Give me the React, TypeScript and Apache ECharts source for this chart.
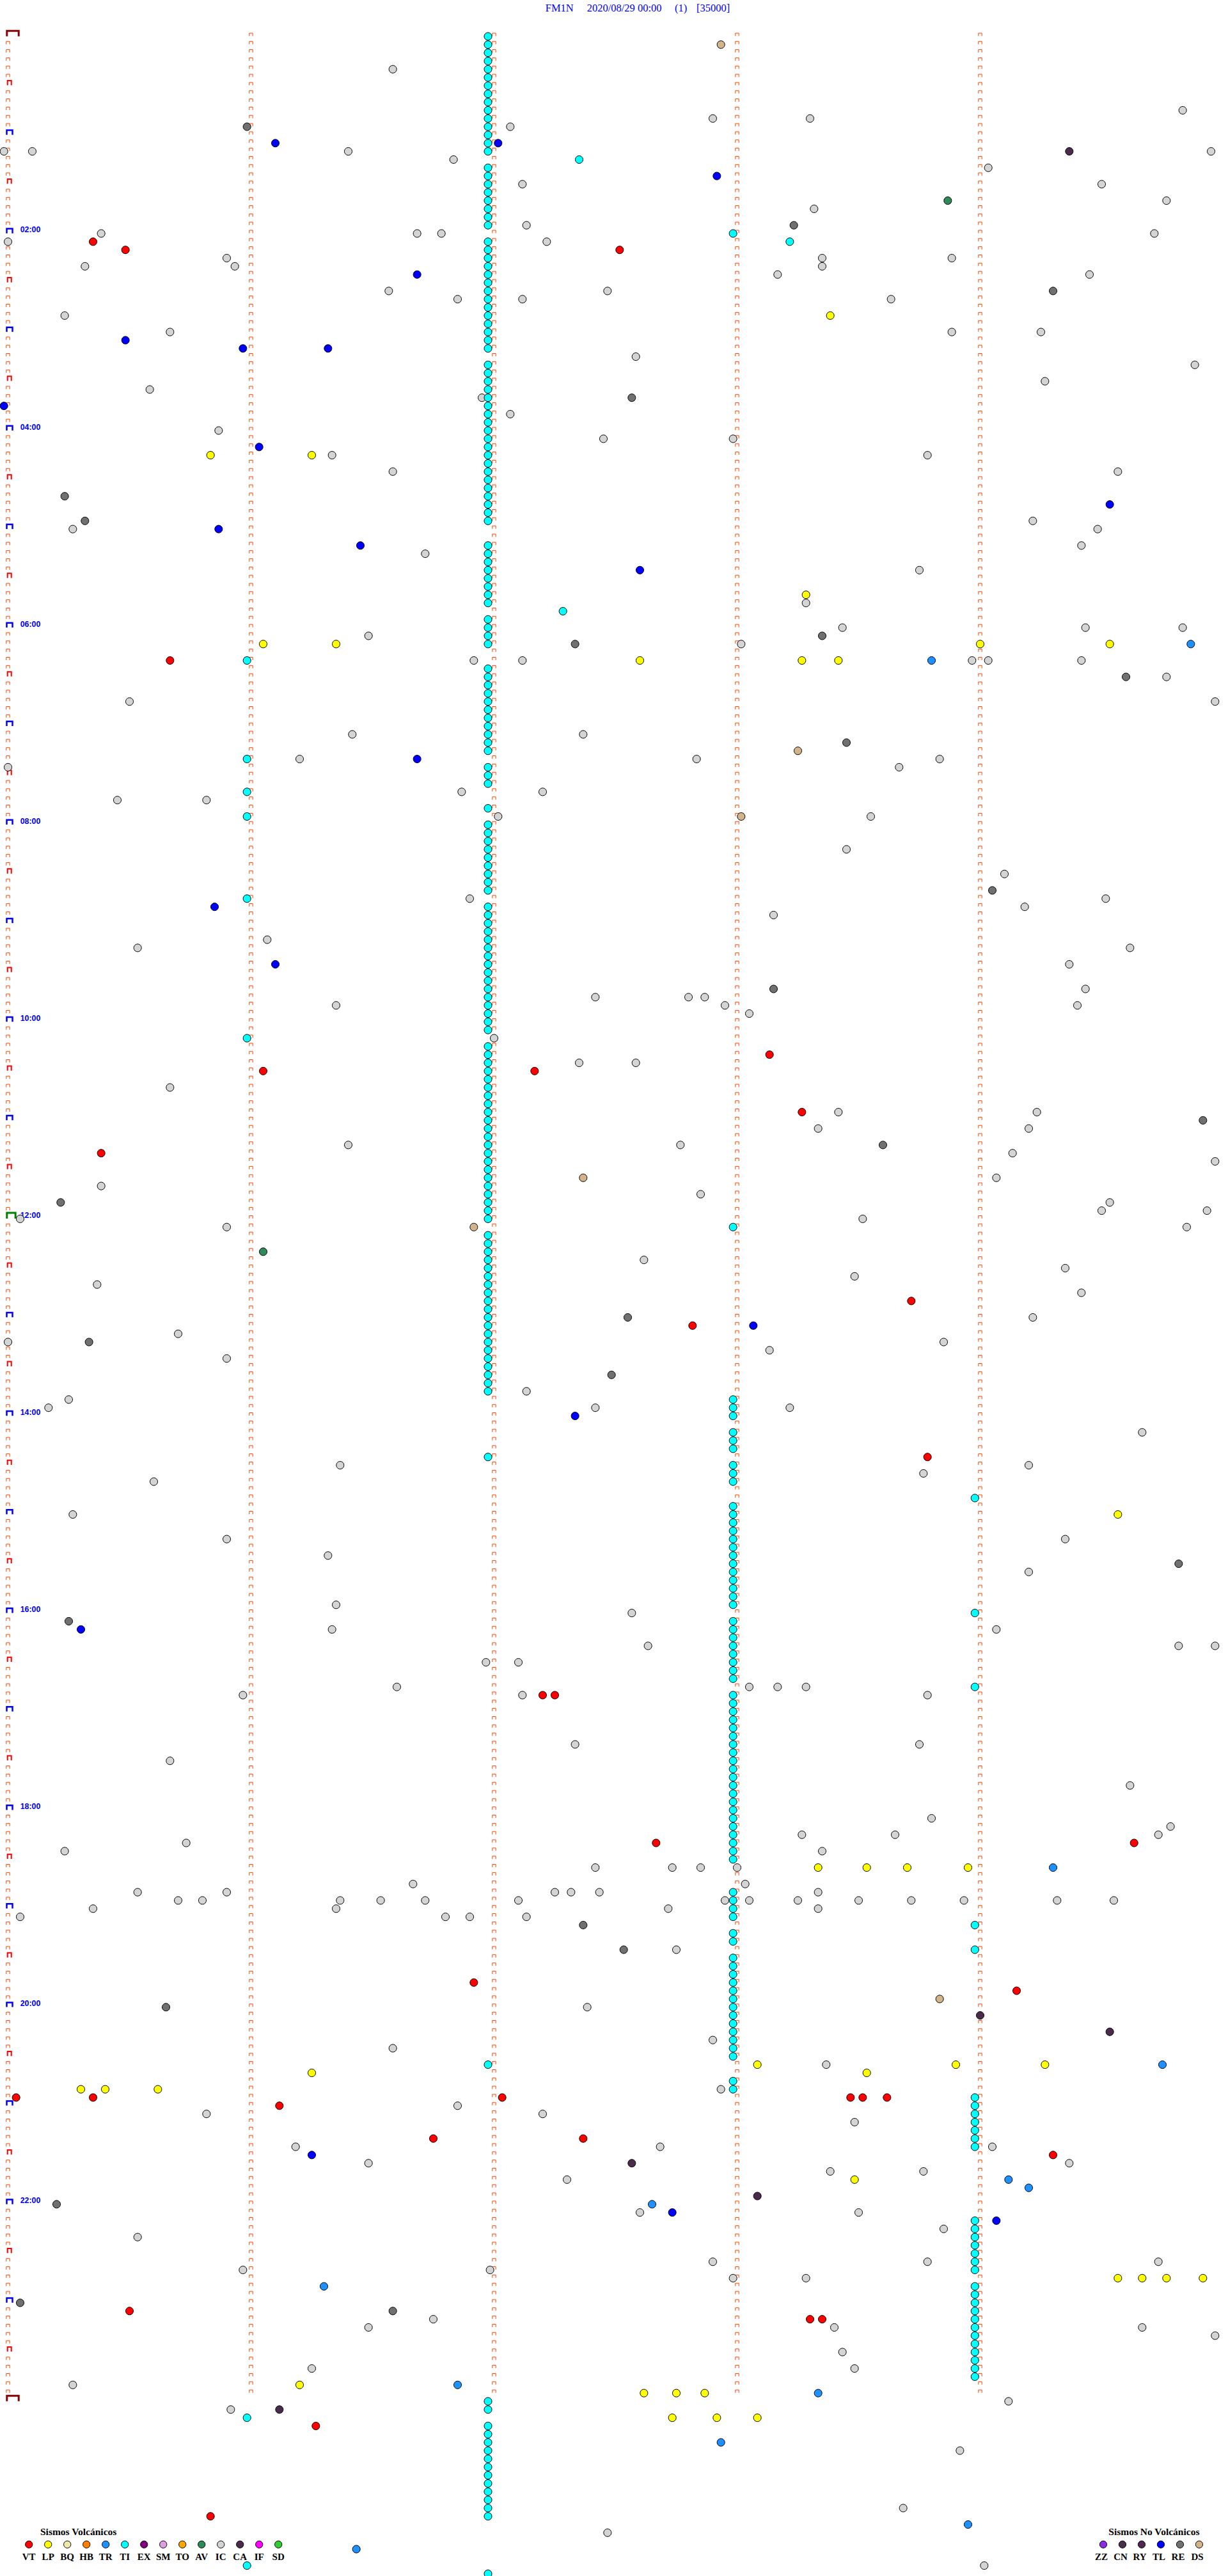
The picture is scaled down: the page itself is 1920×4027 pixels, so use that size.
import React, { useEffect, useRef } from "react";
import * as echarts from "echarts";

// ---------- page geometry (layout, not data) ----------
const WIDTH = 1920;
const HEIGHT = 4027;
const ROW_Y0 = 56.9; // pixel of slot 0
const ROW_H = 12.837; // pixels per 5-minute slot
const X_ZERO = 12.5; // pixel of second 0
const SEC_W = 380 / 60; // pixels per second

// ---------- texts ----------
const TITLE_PARTS = ["FM1N", "2020/08/29 00:00", "(1)", "[35000]"];
const TITLE_X = [852.7, 917.7, 1055, 1089];

const HOUR_LABELS = ["02:00", "04:00", "06:00", "08:00", "10:00", "12:00", "14:00", "16:00", "18:00", "20:00", "22:00"];
const HOUR_LABEL_SLOTS = [24, 48, 72, 96, 120, 144, 168, 192, 216, 240, 264];

const VOLC_TYPES = ["VT", "LP", "BQ", "HB", "TR", "TI", "EX", "SM", "TO", "AV", "IC", "CA", "IF", "SD"];
const VOLC_COLORS = ["#ff0000", "#ffff00", "#eee8aa", "#ff8000", "#1e90ff", "#00ffff", "#800080", "#dda0dd", "#ffa500", "#2e8b57", "#d4d4d4", "#4b2b4b", "#ff00ff", "#32cd32"];
const NONVOLC_TYPES = ["ZZ", "CN", "RY", "TL", "RE", "DS"];
const NONVOLC_COLORS = ["#8a2be2", "#483048", "#502850", "#0000ff", "#707070", "#d2b48c"];

// ---------- events: [slot (5-min row), seconds into slot] ----------
const TI_A_SEC = 118.5;
const TI_A_SLOTS = [
  0, 1, 2, 3, 4, 5, 6, 7, 8, 9, 10, 11, 12, 13, 14, 16, 17, 18, 19, 20, 21, 22, 23,
  25, 26, 27, 28, 29, 30, 31, 32, 33, 34, 35, 36, 37, 38,
  40, 41, 42, 43, 44, 45, 46, 47, 48, 49, 50, 51, 52, 53, 54, 55, 56, 57, 58, 59,
  62, 63, 64, 65, 66, 67, 68, 69, 71, 72, 73, 74,
  77, 78, 79, 80, 81, 82, 83, 84, 85, 86, 87, 89, 90, 91, 94,
  96, 97, 98, 99, 100, 101, 102, 103, 104,
  106, 107, 108, 109, 110, 111, 112, 113, 114, 115, 116, 117, 118, 119, 120, 121,
  123, 124, 125, 126, 127, 128, 129, 130, 131, 132, 133, 134, 135, 136, 137, 138, 139, 140, 141, 142, 143, 144,
  146, 147, 148, 149, 150, 151, 152, 153, 154, 155, 156, 157, 158, 159, 160, 161, 162, 163, 164, 165,
  173, 247, 288, 289, 291, 292, 293, 294, 295, 296, 297, 298, 299, 300, 301, 302, 309,
];
const TI_B_SEC = 179;
const TI_B_SLOTS = [
  24, 145, 166, 167, 168, 170, 171, 172, 174, 175, 176,
  179, 180, 181, 182, 183, 184, 185, 186, 187, 188, 189, 190, 191,
  193, 194, 195, 196, 197, 198, 199, 200,
  202, 203, 204, 205, 206, 207, 208, 209, 210, 211, 212, 213, 214, 215, 216, 217, 218, 219, 220, 221, 222,
  226, 227, 228, 229, 231, 232,
  234, 235, 236, 237, 238, 239, 240, 241, 242, 243, 244, 245, 246, 249, 250,
];
const TI_C_SEC = 238.7;
const TI_C_SLOTS = [
  178, 192, 201, 230, 233,
  251, 252, 253, 254, 255, 256, 257,
  266, 267, 268, 269, 270, 271, 272,
  274, 275, 276, 277, 278, 279, 280, 281, 282, 283, 284, 285,
];
const TI_OTHER = [[15, 141], [25, 193], [70, 137], [76, 59], [88, 59], [92, 59], [95, 59], [105, 59], [122, 59], [290, 59], [308, 59]];

const VT_EVENTS = [
  [25, 21], [26, 29], [26, 151], [76, 40], [124, 188], [126, 63], [126, 130], [131, 196], [136, 23],
  [154, 223], [157, 169], [173, 227], [202, 132], [202, 135], [220, 160], [220, 278], [237, 115], [238, 249],
  [251, 2], [251, 21], [251, 122], [251, 208], [251, 211], [251, 217], [252, 67], [256, 105], [256, 142],
  [258, 258], [277, 30], [278, 198], [278, 201], [291, 76], [302, 50],
];
const LP_EVENTS = [
  [34, 203], [51, 50], [51, 75], [68, 197], [74, 63], [74, 81], [74, 240], [74, 272], [76, 156], [76, 196],
  [76, 205], [180, 274], [223, 200], [223, 212], [223, 222], [223, 237], [247, 185], [247, 234], [247, 256],
  [248, 75], [248, 212], [250, 18], [250, 24], [250, 37], [261, 209], [273, 274], [273, 280], [273, 286],
  [273, 295], [286, 72], [287, 157], [287, 165], [287, 172], [290, 164], [290, 175], [290, 185],
];
const TR_EVENTS = [
  [74, 292], [76, 228], [223, 258], [247, 285], [261, 247], [262, 252], [264, 159], [274, 78], [286, 111],
  [287, 200], [293, 176], [303, 237], [306, 86],
];
const AV_EVENTS = [[20, 232], [148, 63]];
const CA_EVENTS = [[14, 262], [241, 240], [243, 272], [259, 154], [263, 185], [289, 67]];
const TL_EVENTS = [
  [13, 66], [13, 121], [17, 175], [29, 101], [37, 29], [38, 58], [38, 79], [45, -1], [50, 62], [57, 272],
  [60, 52], [62, 87], [65, 156], [88, 101], [106, 51], [113, 66], [157, 184], [168, 140], [194, 18],
  [258, 75], [265, 164], [266, 244],
];
const RE_EVENTS = [
  [11, 59], [23, 194], [31, 258], [44, 154], [56, 14], [59, 19], [73, 201], [74, 140], [78, 276], [86, 207],
  [104, 243], [116, 189], [132, 295], [135, 216], [142, 13], [156, 153], [159, 20], [163, 149], [186, 289],
  [193, 15], [230, 142], [233, 152], [240, 39], [264, 12], [276, 3], [277, 95],
];
const DS_EVENTS = [[1, 176], [87, 195], [95, 181], [139, 142], [145, 115], [239, 230]];
const IC_EVENTS = [
  [4, 95], [9, 290], [10, 174], [10, 198], [11, 124], [14, -1], [14, 6], [14, 84], [14, 297], [15, 110],
  [16, 242], [18, 127], [18, 270], [20, 286], [21, 199], [23, 128], [24, 283], [24, 23], [24, 101], [24, 107],
  [25, 0], [25, 133], [27, 54], [28, 19], [28, 56], [27, 201], [28, 201], [27, 233], [29, 190], [29, 267],
  [31, 94], [32, 111], [32, 127], [31, 148], [32, 218], [34, 14], [36, 40], [36, 233], [36, 255], [39, 155],
  [40, 293], [42, 256], [43, 35], [44, 117], [46, 124], [48, 52], [49, 147], [49, 179], [51, 80], [51, 227],
  [53, 95], [53, 274], [60, 16], [59, 253], [60, 269], [62, 265], [63, 103], [65, 225], [69, 197], [72, 206],
  [73, 89], [74, 181], [72, 266], [72, 290], [76, 115], [76, 127], [76, 238], [76, 242], [76, 265], [78, 286],
  [81, 30], [81, 298], [85, 85], [85, 142], [88, 170], [88, 72], [89, 220], [88, 230], [89, 0], [92, 112],
  [92, 132], [95, 121], [93, 27], [93, 49], [95, 213], [99, 207], [102, 246], [106, 251], [105, 114], [107, 189],
  [105, 271], [110, 64], [111, 32], [111, 277], [113, 262], [116, 266], [118, 81], [117, 145], [117, 168], [117, 172],
  [118, 177], [119, 183], [118, 264], [122, 120], [125, 141], [125, 155], [128, 40], [131, 205], [133, 200], [131, 254],
  [133, 252], [135, 84], [135, 166], [136, 248], [137, 298], [139, 244], [140, 23], [141, 171], [142, 272], [143, 270],
  [143, 296], [144, 3], [145, 54], [144, 211], [145, 291], [149, 157], [151, 209], [150, 261], [152, 22], [153, 265],
  [159, 0], [156, 253], [158, 42], [159, 231], [161, 54], [160, 188], [165, 128], [166, 15], [167, 10], [167, 145],
  [167, 193], [170, 280], [175, 226], [174, 82], [174, 252], [176, 36], [180, 16], [183, 54], [183, 261], [185, 79],
  [187, 252], [191, 81], [194, 80], [192, 154], [194, 244], [196, 158], [196, 289], [196, 298], [198, 118], [198, 126],
  [201, 96], [202, 58], [202, 127], [201, 183], [201, 190], [201, 197], [202, 227], [208, 140], [208, 225], [210, 40],
  [213, 277], [217, 228], [218, 287], [221, 14], [220, 44], [219, 196], [219, 219], [219, 284], [223, 145], [223, 164],
  [223, 171], [223, 180], [221, 201], [226, 32], [226, 54], [227, 42], [227, 48], [225, 100], [227, 126], [226, 135],
  [226, 139], [226, 146], [227, 82], [228, 81], [227, 92], [227, 103], [229, 114], [229, 128], [228, 163], [225, 182],
  [227, 177], [227, 183], [227, 195], [226, 200], [228, 200], [227, 210], [227, 223], [227, 236], [227, 259], [227, 273],
  [229, 3], [228, 21], [229, 108], [233, 165], [240, 143], [244, 174], [245, 95], [247, 202], [250, 176], [252, 111],
  [253, 49], [253, 132], [257, 243], [257, 71], [254, 209], [259, 262], [259, 89], [257, 161], [260, 203], [261, 138],
  [260, 226], [265, 156], [265, 210], [267, 231], [268, 32], [271, 174], [271, 227], [272, 119], [272, 58], [271, 284],
  [273, 197], [273, 179], [278, 105], [279, 89], [279, 204], [279, 280], [280, 298], [282, 206], [284, 75], [284, 209],
  [286, 16], [288, 247], [289, 55], [294, 235], [301, 221], [304, 148], [308, 241],
];

// ---------- marker styles (layout) ----------
const MARK_KINDS = ["s", "r", "b", "g", "d"];
const MARK_SPECS: Record<string, any> = {
  s: { x0: -2.7, x1: 2.7, top: -5, bottom: -0.5, lw: 1, color: "#ff4500" },
  r: { x0: -0.8, x1: 5.2, top: -7.9, bottom: -0.6, lw: 2, color: "#ff0000" },
  b: { x0: -2, x1: 7, top: -7.4, bottom: -0.2, lw: 2.5, color: "#0000ff" },
  g: { x0: -1.7, x1: 11.7, top: -9.5, bottom: -0.4, lw: 3, color: "#008000" },
  d: { x0: -1.7, x1: 16.7, top: -8.7, bottom: -0.2, lw: 3, color: "#8b0000" },
};
const LAST_SLOT = 288;

function toXY(list: number[][]) {
  return list.map((e) => [e[1], e[0]]);
}
function fromSlots(slots: number[], sec: number) {
  return slots.map((s) => [sec, s]);
}

export default function App() {
  const ref = useRef<HTMLDivElement>(null);

  useEffect(() => {
    document.body.style.margin = "0";
    if (!ref.current) return;
    const chart = echarts.init(ref.current, null, { renderer: "svg" });

    const markData: number[][] = [];
    for (let r = 0; r <= LAST_SLOT; r++) {
      for (let m = 0; m < 5; m++) {
        let k = 0;
        if (m === 0) {
          if (r === 0 || r === LAST_SLOT) k = 4;
          else if (r === 144) k = 3;
          else if (r % 12 === 0) k = 2;
          else if (r % 6 === 0) k = 1;
        } else if (r === LAST_SLOT) continue;
        markData.push([m * 60, r, k]);
      }
    }

    const circle = (name: string, color: string, data: number[][]) => ({
      name,
      type: "scatter",
      symbol: "circle",
      symbolSize: 12,
      clip: false,
      silent: true,
      itemStyle: { color, borderColor: "#000000", borderWidth: 1, opacity: 1 },
      data,
      z: 3,
    });

    const tiData = [
      ...fromSlots(TI_A_SLOTS, TI_A_SEC),
      ...fromSlots(TI_B_SLOTS, TI_B_SEC),
      ...fromSlots(TI_C_SLOTS, TI_C_SEC),
      ...toXY(TI_OTHER),
    ];

    const graphics: any[] = [];
    TITLE_PARTS.forEach((t, i) => {
      graphics.push({
        type: "text",
        x: TITLE_X[i],
        y: 12.5,
        style: { text: t, fill: "#0000ff", font: '16.5px "Liberation Serif"', align: "left", verticalAlign: "middle" },
      });
    });
    graphics.push({
      type: "text",
      x: 63,
      y: 3957.5,
      style: { text: "Sismos Volcánicos", fill: "#000", font: 'bold 15.5px "Liberation Serif"', align: "left", verticalAlign: "middle" },
    });
    VOLC_TYPES.forEach((t, i) => {
      const cx = 45.2 + 30 * i;
      graphics.push({ type: "circle", shape: { cx, cy: 3977.7, r: 5.6 }, style: { fill: VOLC_COLORS[i], stroke: "#000", lineWidth: 1 } });
      graphics.push({
        type: "text",
        x: cx,
        y: 3996.7,
        style: { text: t, fill: "#000", font: 'bold 15px "Liberation Serif"', align: "center", verticalAlign: "middle" },
      });
    });
    graphics.push({
      type: "text",
      x: 1733.3,
      y: 3957.5,
      style: { text: "Sismos No Volcánicos", fill: "#000", font: 'bold 15.5px "Liberation Serif"', align: "left", verticalAlign: "middle" },
    });
    NONVOLC_TYPES.forEach((t, i) => {
      const cx = 1725 + 30 * i;
      graphics.push({ type: "circle", shape: { cx, cy: 3977.7, r: 5.6 }, style: { fill: NONVOLC_COLORS[i], stroke: "#000", lineWidth: 1 } });
      graphics.push({
        type: "text",
        x: cx - 3,
        y: 3996.7,
        style: { text: t, fill: "#000", font: 'bold 15px "Liberation Serif"', align: "center", verticalAlign: "middle" },
      });
    });

    chart.setOption({
      animation: false,
      backgroundColor: "#ffffff",
      grid: { left: 0, top: 0, width: WIDTH, height: HEIGHT, containLabel: false },
      xAxis: { type: "value", min: -X_ZERO / SEC_W, max: (WIDTH - X_ZERO) / SEC_W, show: false },
      yAxis: { type: "value", min: -ROW_Y0 / ROW_H, max: (HEIGHT - ROW_Y0) / ROW_H, inverse: true, show: false },
      graphic: graphics,
      series: [
        {
          type: "custom",
          name: "marks",
          silent: true,
          z: 1,
          data: markData,
          renderItem: (params: any, api: any) => {
            const p = api.coord([api.value(0), api.value(1)]);
            const sp = MARK_SPECS[MARK_KINDS[api.value(2)]];
            return {
              type: "polyline",
              shape: {
                points: [
                  [p[0] + sp.x0, p[1] + sp.bottom],
                  [p[0] + sp.x0, p[1] + sp.top],
                  [p[0] + sp.x1, p[1] + sp.top],
                  [p[0] + sp.x1, p[1] + sp.bottom],
                ],
              },
              style: { stroke: sp.color, lineWidth: sp.lw, fill: "none" },
            };
          },
        },
        {
          type: "custom",
          name: "hours",
          silent: true,
          z: 2,
          data: HOUR_LABEL_SLOTS.map((s, i) => [0, s, i]),
          renderItem: (params: any, api: any) => {
            const p = api.coord([api.value(0), api.value(1)]);
            return {
              type: "text",
              x: p[0] + 19.2,
              y: p[1] - 5.5,
              style: {
                text: HOUR_LABELS[api.value(2)],
                fill: "#0000ff",
                font: 'bold 12.4px "Liberation Sans"',
                align: "left",
                verticalAlign: "middle",
              },
            };
          },
        },
        circle("IC", VOLC_COLORS[10], toXY(IC_EVENTS)),
        circle("RE", NONVOLC_COLORS[4], toXY(RE_EVENTS)),
        circle("DS", NONVOLC_COLORS[5], toXY(DS_EVENTS)),
        circle("CA", VOLC_COLORS[11], toXY(CA_EVENTS)),
        circle("AV", VOLC_COLORS[9], toXY(AV_EVENTS)),
        circle("TL", NONVOLC_COLORS[3], toXY(TL_EVENTS)),
        circle("TR", VOLC_COLORS[4], toXY(TR_EVENTS)),
        circle("LP", VOLC_COLORS[1], toXY(LP_EVENTS)),
        circle("VT", VOLC_COLORS[0], toXY(VT_EVENTS)),
        circle("TI", VOLC_COLORS[5], tiData),
      ],
    });

    return () => {
      chart.dispose();
    };
  }, []);

  return <div ref={ref} style={{ width: WIDTH, height: HEIGHT, display: "block" }} />;
}
